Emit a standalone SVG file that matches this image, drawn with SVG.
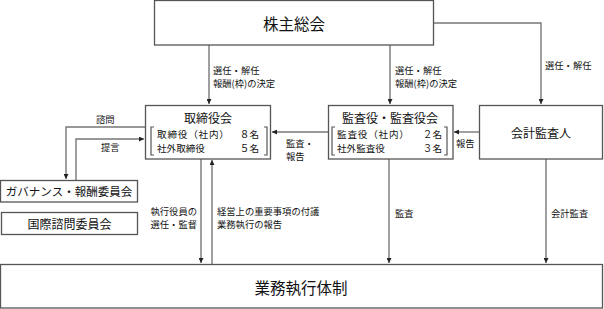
<svg xmlns="http://www.w3.org/2000/svg" width="604" height="309" viewBox="0 0 604 309">
<style>
text{font-family:"Noto Sans CJK JP","Noto Sans CJK SC",sans-serif;fill:#111;dominant-baseline:central}
.box{fill:#fff;stroke:#555;stroke-width:1.3}
.big{font-size:15.5px;text-anchor:middle}
.ttl{font-size:12px;text-anchor:middle}
.row{font-size:9.6px}
.end{text-anchor:end}
.lbl{font-size:9.3px}
.br{fill:none;stroke:#555;stroke-width:1.2}
.cn{fill:none;stroke:#777;stroke-width:1.4}
</style>
<defs>
<marker id="ah" viewBox="0 0 10 10" refX="10" refY="5" markerWidth="5" markerHeight="5" markerUnits="userSpaceOnUse" orient="auto">
<path d="M0,0L10,5L0,10z" fill="#222"/>
</marker>
</defs>
<g id="connectors">
<path class="cn" d="M209,45V104" marker-end="url(#ah)"/>
<path class="cn" d="M390,45V104" marker-end="url(#ah)"/>
<path class="cn" d="M433,23H541V104" marker-end="url(#ah)"/>
<path class="cn" d="M145,127H66V179" marker-end="url(#ah)"/>
<path class="cn" d="M76,180V139H144" marker-end="url(#ah)"/>
<path class="cn" d="M328,132H272" marker-end="url(#ah)"/>
<path class="cn" d="M479,132H454" marker-end="url(#ah)"/>
<path class="cn" d="M201,159V263" marker-end="url(#ah)"/>
<path class="cn" d="M212,264V160" marker-end="url(#ah)"/>
<path class="cn" d="M389,159V263" marker-end="url(#ah)"/>
<path class="cn" d="M546,159V263" marker-end="url(#ah)"/>
<text class="lbl"><tspan x="213" y="69.5">選任・解任</tspan><tspan x="213" y="83">報酬(枠)の決定</tspan></text>
<text class="lbl"><tspan x="395" y="69.5">選任・解任</tspan><tspan x="395" y="83">報酬(枠)の決定</tspan></text>
<text class="lbl" x="545" y="65">選任・解任</text>
<text class="lbl" x="96" y="119">諮問</text>
<text class="lbl" x="101" y="147">提言</text>
<text class="lbl"><tspan x="286" y="142.5">監査・</tspan><tspan x="286" y="156">報告</tspan></text>
<text class="lbl" x="456" y="143">報告</text>
<text class="lbl end"><tspan x="197" y="210.5">執行役員の</tspan><tspan x="197" y="224">選任・監督</tspan></text>
<text class="lbl"><tspan x="217" y="210.5">経営上の重要事項の付議</tspan><tspan x="217" y="224">業務執行の報告</tspan></text>
<text class="lbl" x="395" y="213">監査</text>
<text class="lbl" x="551" y="213">会計監査</text>
</g>
<g id="agm">
<rect class="box" x="154.5" y="0.5" width="279" height="44.5"/>
<text class="big" x="294" y="22.5">株主総会</text>
</g>
<g id="board">
<rect class="box" x="145.5" y="105.5" width="125" height="53.5"/>
<text class="ttl" x="208" y="117.5">取締役会</text>
<path class="br" d="M154,127H151V155H154M264,127H267V155H264"/>
<text class="row"><tspan x="157" y="133.5" letter-spacing="0.8">取締役（社内）</tspan><tspan x="259" y="133.5" text-anchor="end">８名</tspan><tspan x="157" y="147.5">社外取締役</tspan><tspan x="259" y="147.5" text-anchor="end">５名</tspan></text>
</g>
<g id="auditboard">
<rect class="box" x="328.5" y="105.5" width="124.5" height="53.5"/>
<text class="ttl" x="390" y="117.5">監査役・監査役会</text>
<path class="br" d="M335,127H332V155H335M444,127H447V155H444"/>
<text class="row"><tspan x="337" y="133.5" letter-spacing="0.8">監査役（社内）</tspan><tspan x="442" y="133.5" text-anchor="end">２名</tspan><tspan x="337" y="147.5">社外監査役</tspan><tspan x="442" y="147.5" text-anchor="end">３名</tspan></text>
</g>
<g id="accountant">
<rect class="box" x="479.5" y="105.5" width="123" height="53.5"/>
<text class="ttl" x="541" y="132">会計監査人</text>
</g>
<g id="governance">
<rect class="box" x="0.5" y="180.5" width="137" height="21.5"/>
<text class="ttl" x="69" y="191" style="font-size:11.5px">ガバナンス・報酬委員会</text>
</g>
<g id="advisory">
<rect class="box" x="1.5" y="212.5" width="136" height="22"/>
<text class="ttl" x="69.5" y="223.5">国際諮問委員会</text>
</g>
<g id="execution">
<rect class="box" x="0.5" y="264.5" width="602" height="43.5"/>
<text class="big" x="301" y="286.5">業務執行体制</text>
</g>
</svg>
